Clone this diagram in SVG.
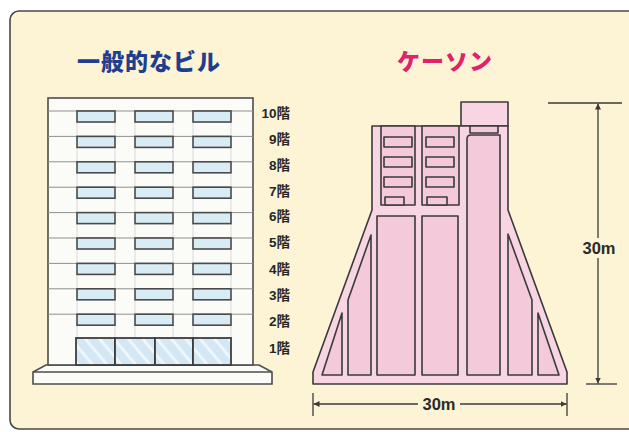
<svg xmlns="http://www.w3.org/2000/svg" width="629" height="432" viewBox="0 0 629 432">
  <defs>
    <style>
      .frame{fill:#FCF4D5;stroke:#474747;stroke-width:1.6}
      .title{font-family:"Noto Sans CJK JP","Noto Sans CJK SC",sans-serif;font-weight:900;font-size:23px;text-anchor:middle;letter-spacing:1px}
      .wall{fill:#FBFBF7;stroke:#4d4d4d;stroke-width:1.6}
      .floor{stroke:#8f8f8f;stroke-width:1;fill:none}
      .mull{stroke:#d2d2d2;stroke-width:0.8;fill:none}
      .win{fill:#D8ECF6;stroke:#4a4a4a;stroke-width:1.6}
      .glass{fill:url(#hatch);stroke:#3d3d3d;stroke-width:1.8}
      .lbl{font-family:"Liberation Sans","Noto Sans CJK JP",sans-serif;font-weight:bold;font-size:13.5px;fill:#262626;text-anchor:end}
      .shell{fill:#F7D5E2;stroke:#3a3a3a;stroke-width:1.6;stroke-linejoin:round}
      .cell{fill:#F4CADA;stroke:#3a3a3a;stroke-width:1.6;stroke-linejoin:round}
      .dim{stroke:#3a3a3a;stroke-width:1.3;fill:none}
      .dimtxt{font-family:"Liberation Sans",sans-serif;font-weight:bold;font-size:16.5px;fill:#2b2b2b;text-anchor:middle}
    </style>
    <pattern id="hatch" width="11" height="11" patternUnits="userSpaceOnUse" patternTransform="rotate(-40)">
      <rect width="11" height="11" fill="#D3E8F4"/>
      <rect width="3" height="11" fill="#EDF6FA"/>
    </pattern>
    <marker id="arr" viewBox="0 0 6 6" refX="6" refY="3" markerWidth="6" markerHeight="6" markerUnits="userSpaceOnUse" orient="auto-start-reverse">
      <path d="M0,0 L6,3 L0,6 Z" fill="#3a3a3a"/>
    </marker>
  </defs>

  <!-- panel background -->
  <rect class="frame" x="10" y="11" width="640" height="418" rx="9"/>

  <!-- headings -->
  <text class="title" x="149" y="70" fill="#1F3F8E">一般的なビル</text>
  <text class="title" x="445" y="70" fill="#E2216C">ケーソン</text>

  <!-- ordinary ten-storey building -->
  <g id="building">
    <path class="wall" d="M33,384 L33,372 L46,365 L259,365 L272,372 L272,384 Z"/>
    <line x1="33" y1="372" x2="272" y2="372" style="stroke:#4d4d4d;stroke-width:1.4"/>
    <rect class="wall" x="48" y="98" width="205" height="267"/>
    <!-- floor lines -->
    <g class="floor">
      <line x1="48" y1="111" x2="253" y2="111"/>
      <line x1="48" y1="136.4" x2="253" y2="136.4"/>
      <line x1="48" y1="161.8" x2="253" y2="161.8"/>
      <line x1="48" y1="187.2" x2="253" y2="187.2"/>
      <line x1="48" y1="212.6" x2="253" y2="212.6"/>
      <line x1="48" y1="238" x2="253" y2="238"/>
      <line x1="48" y1="263.4" x2="253" y2="263.4"/>
      <line x1="48" y1="288.8" x2="253" y2="288.8"/>
      <line x1="48" y1="314.2" x2="253" y2="314.2"/>
    </g>
    <!-- faint column lines below each window -->
    <g class="mull">
      <path d="M77,122 V136 M115,122 V136 M135,122 V136 M173,122 V136 M193,122 V136 M231,122 V136"/>
      <path d="M77,147 V162 M115,147 V162 M135,147 V162 M173,147 V162 M193,147 V162 M231,147 V162"/>
      <path d="M77,173 V187 M115,173 V187 M135,173 V187 M173,173 V187 M193,173 V187 M231,173 V187"/>
      <path d="M77,198 V213 M115,198 V213 M135,198 V213 M173,198 V213 M193,198 V213 M231,198 V213"/>
      <path d="M77,224 V238 M115,224 V238 M135,224 V238 M173,224 V238 M193,224 V238 M231,224 V238"/>
      <path d="M77,249 V263 M115,249 V263 M135,249 V263 M173,249 V263 M193,249 V263 M231,249 V263"/>
      <path d="M77,274 V289 M115,274 V289 M135,274 V289 M173,274 V289 M193,274 V289 M231,274 V289"/>
      <path d="M77,300 V314 M115,300 V314 M135,300 V314 M173,300 V314 M193,300 V314 M231,300 V314"/>
      <path d="M77,325 V338 M115,325 V338 M135,325 V338 M173,325 V338 M193,325 V338 M231,325 V338"/>
    </g>
    <!-- windows, floors 10 to 2 -->
    <g class="win">
      <rect x="77" y="111" width="38" height="11"/><rect x="135" y="111" width="38" height="11"/><rect x="193" y="111" width="38" height="11"/>
      <rect x="77" y="136.4" width="38" height="11"/><rect x="135" y="136.4" width="38" height="11"/><rect x="193" y="136.4" width="38" height="11"/>
      <rect x="77" y="161.8" width="38" height="11"/><rect x="135" y="161.8" width="38" height="11"/><rect x="193" y="161.8" width="38" height="11"/>
      <rect x="77" y="187.2" width="38" height="11"/><rect x="135" y="187.2" width="38" height="11"/><rect x="193" y="187.2" width="38" height="11"/>
      <rect x="77" y="212.6" width="38" height="11"/><rect x="135" y="212.6" width="38" height="11"/><rect x="193" y="212.6" width="38" height="11"/>
      <rect x="77" y="238" width="38" height="11"/><rect x="135" y="238" width="38" height="11"/><rect x="193" y="238" width="38" height="11"/>
      <rect x="77" y="263.4" width="38" height="11"/><rect x="135" y="263.4" width="38" height="11"/><rect x="193" y="263.4" width="38" height="11"/>
      <rect x="77" y="288.8" width="38" height="11"/><rect x="135" y="288.8" width="38" height="11"/><rect x="193" y="288.8" width="38" height="11"/>
      <rect x="77" y="314.2" width="38" height="11"/><rect x="135" y="314.2" width="38" height="11"/><rect x="193" y="314.2" width="38" height="11"/>
    </g>
    <!-- ground-floor glazing -->
    <g class="glass">
      <rect x="76" y="338" width="39" height="27"/>
      <rect x="115" y="338" width="40" height="27"/>
      <rect x="155" y="338" width="38" height="27"/>
      <rect x="193" y="338" width="38" height="27"/>
    </g>
  </g>

  <!-- storey labels -->
  <g id="floor-labels">
    <text class="lbl" x="290" y="118">10階</text>
    <text class="lbl" x="290" y="144">9階</text>
    <text class="lbl" x="290" y="170">8階</text>
    <text class="lbl" x="290" y="195.5">7階</text>
    <text class="lbl" x="290" y="221">6階</text>
    <text class="lbl" x="290" y="247">5階</text>
    <text class="lbl" x="290" y="273.5">4階</text>
    <text class="lbl" x="290" y="300">3階</text>
    <text class="lbl" x="290" y="326">2階</text>
    <text class="lbl" x="290" y="353">1階</text>
  </g>

  <!-- caisson cross-section -->
  <g id="caisson">
    <rect class="shell" x="461" y="102" width="47" height="24"/>
    <path class="shell" d="M313,384 L313,372 L372,210 L372,126 L508,126 L508,210 L567,372 L567,384 Z"/>
    <!-- upper cells -->
    <rect class="cell" x="381" y="126" width="34" height="79"/>
    <rect class="cell" x="422" y="126" width="37" height="79"/>
    <rect class="cell" x="470" y="126" width="28" height="7"/>
    <g class="cell">
      <rect x="384" y="137" width="28" height="10"/>
      <rect x="384" y="157" width="28" height="10"/>
      <rect x="384" y="177" width="28" height="10"/>
      <rect x="385" y="197" width="19" height="8"/>
      <rect x="426" y="137" width="28" height="10"/>
      <rect x="426" y="157" width="28" height="10"/>
      <rect x="426" y="177" width="28" height="10"/>
      <rect x="427" y="197" width="20" height="8"/>
    </g>
    <!-- lower cells -->
    <path class="cell" d="M322,375 L342,313 L342,375 Z"/>
    <path class="cell" d="M348,375 L348,300 L371,235 L371,375 Z"/>
    <rect class="cell" x="377" y="216" width="38" height="159"/>
    <rect class="cell" x="422" y="216" width="36" height="159"/>
    <path class="cell" d="M467,375 L467,139 Q467,135 471,135 L500,135 L500,375 Z"/>
    <path class="cell" d="M508,375 L508,234 L532,300 L532,375 Z"/>
    <path class="cell" d="M538,375 L538,313 L559,375 Z"/>
  </g>

  <!-- dimension lines -->
  <g id="connectors">
    <line class="dim" x1="548" y1="103" x2="622" y2="103"/>
    <line class="dim" x1="586" y1="384" x2="617" y2="384"/>
    <line class="dim" x1="598" y1="238" x2="598" y2="103.5" marker-end="url(#arr)"/>
    <line class="dim" x1="598" y1="258" x2="598" y2="383.5" marker-end="url(#arr)"/>
    <line class="dim" x1="313" y1="393" x2="313" y2="416"/>
    <line class="dim" x1="567" y1="393" x2="567" y2="416"/>
    <line class="dim" x1="418" y1="404" x2="313.5" y2="404" marker-end="url(#arr)"/>
    <line class="dim" x1="460" y1="404" x2="566.5" y2="404" marker-end="url(#arr)"/>
  </g>
  <text class="dimtxt" x="599" y="254">30m</text>
  <text class="dimtxt" x="439" y="410">30m</text>
</svg>
